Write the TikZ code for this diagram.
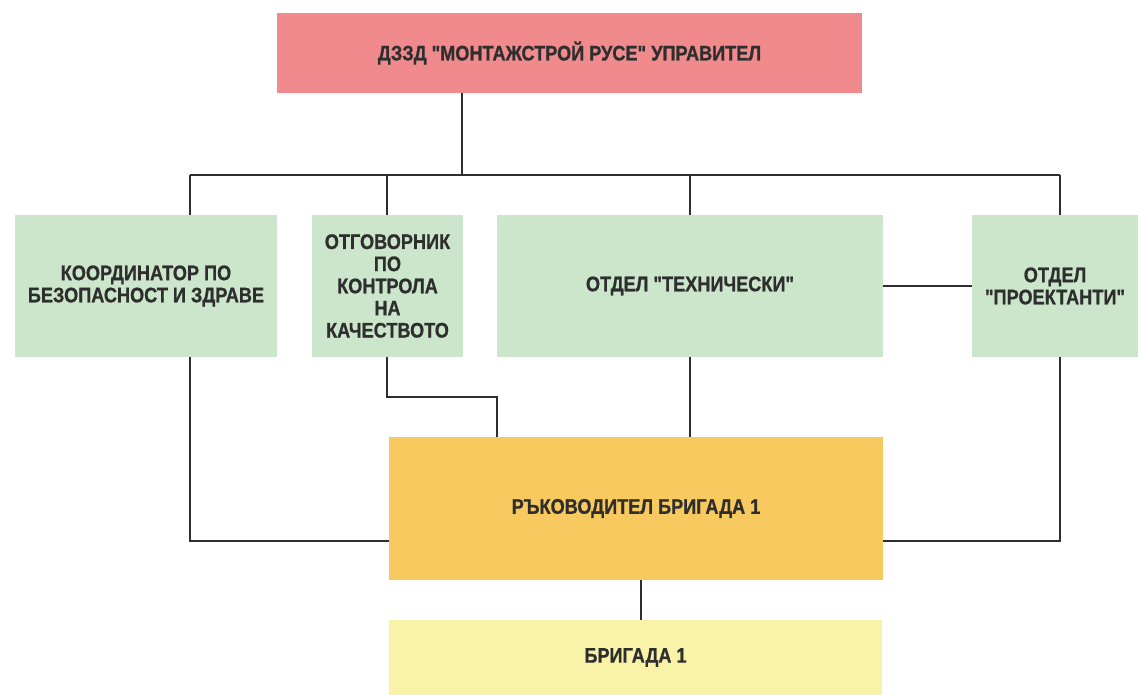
\documentclass[tikz,border=0pt]{standalone}
\usepackage{fontspec}
\setmainfont{Liberation Sans}[Ligatures=TeXOff, FakeStretch=0.86, BoldFeatures={FakeBold=0.8}]
\usetikzlibrary{positioning, calc}
\definecolor{cred}{HTML}{F08A8C}
\definecolor{cgreen}{HTML}{CBE6CB}
\definecolor{corange}{HTML}{F8C95F}
\definecolor{cyellow}{HTML}{F8F3A6}
\definecolor{cink}{HTML}{2E2E2E}
\tikzset{
  every picture/.style={line width=1.1pt},
  box/.style={fill=#1, draw=none, align=center, inner sep=4pt, outer sep=0pt, text=cink,
    font=\bfseries\fontsize{12}{12.6}\selectfont},
  box/.default=cgreen,
  link/.style={draw=cink, line width=1.1pt},
}

\begin{document}
\begin{tikzpicture}[
    x=0.02cm, y=-0.02cm,
    head/.style={box=cred, minimum width=11.7cm, minimum height=1.6cm},
    dept/.style={box=cgreen, minimum height=2.84cm},
    lead/.style={box=corange, minimum width=9.88cm, minimum height=2.86cm},
    crew/.style={box=cyellow, minimum width=9.86cm, minimum height=1.5cm},
  ]
  \useasboundingbox (0,0) rectangle (1138,695);

  % ---- top
  \node[head] (upr) at (569.5,53) {ДЗЗД "МОНТАЖСТРОЙ РУСЕ" УПРАВИТЕЛ};

  % ---- departments
  \node[dept, minimum width=5.24cm] (koord)  at (146,286)   {КООРДИНАТОР ПО\\БЕЗОПАСНОСТ И ЗДРАВЕ};
  \node[dept, minimum width=3.02cm] (otg)    at (387.5,286) {ОТГОВОРНИК\\ПО\\КОНТРОЛА\\НА\\КАЧЕСТВОТО};
  \node[dept, minimum width=7.72cm] (tech)   at (690,286)   {ОТДЕЛ "ТЕХНИЧЕСКИ"};
  \node[dept, minimum width=3.32cm] (proekt) at (1055,286)  {ОТДЕЛ\\"ПРОЕКТАНТИ"};

  % ---- brigade
  \node[lead] (ruk)  at (636,508.5)   {РЪКОВОДИТЕЛ БРИГАДА 1};
  \node[crew] (brig) at (635.5,657.5) {БРИГАДА 1};

  % bus
  \coordinate (top)  at (462,175);
  \coordinate (busL) at (190,175);
  \coordinate (busR) at (1060,175);
  \coordinate (oX)   at (387,175);
  \draw[link] (upr.south -| top) -- (top);
  \draw[link] (busL) -- (busR);
  \draw[link] (busL) -- (busL |- koord.north);
  \draw[link] (oX) -- (oX |- otg.north);
  \draw[link] (tech.north |- busL) -- (tech.north);
  \draw[link] (busR) -- (busR |- proekt.north);
  \draw[link] (tech.east) -- (proekt.west);

  % down to the brigade
  \coordinate (jL)  at (190,541);
  \coordinate (jR)  at (1060,541);
  \coordinate (jO)  at (387,397);
  \coordinate (jO2) at (497,397);
  \coordinate (jB)  at (641,600);
  \draw[link] (koord.south -| jL) -- (jL) -- (jL -| ruk.west);
  \draw[link] (proekt.south -| jR) -- (jR) -- (jR -| ruk.east);
  \draw[link] (otg.south -| jO) -- (jO) -- (jO2) -- (jO2 |- ruk.north);
  \draw[link] (tech.south) -- (tech.south |- ruk.north);
  \draw[link] (ruk.south -| jB) -- (jB |- brig.north);
\end{tikzpicture}
\end{document}
